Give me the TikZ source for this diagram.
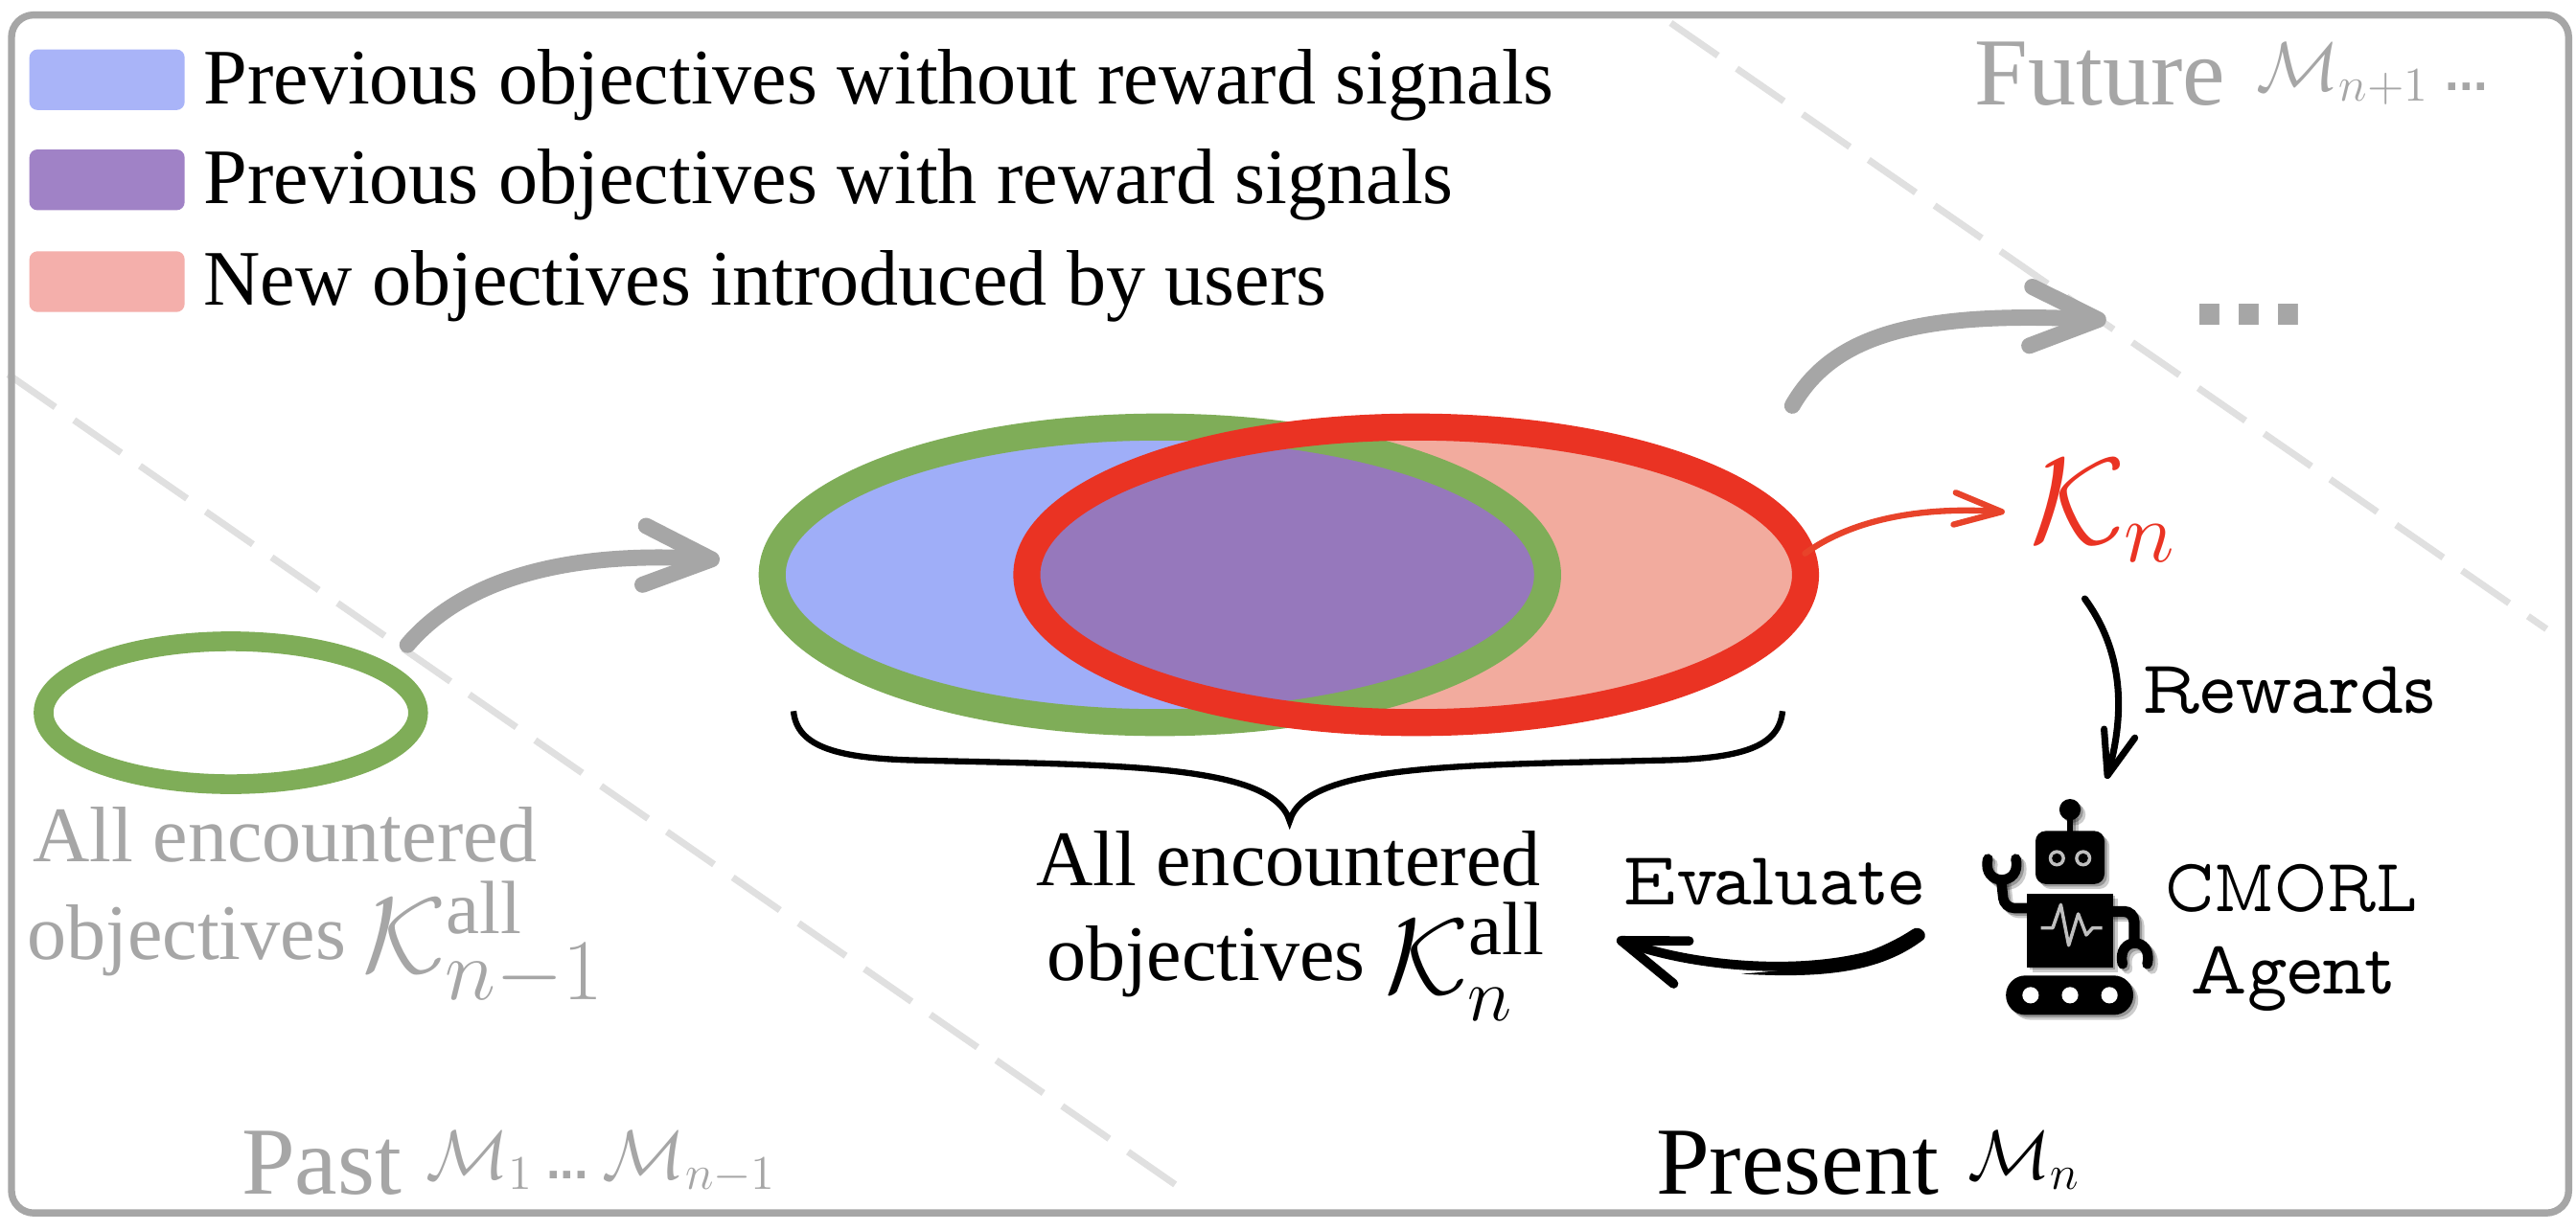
\RequirePackage{fix-cm}
\documentclass[tikz,border=0pt]{standalone}
\usepackage{fontspec}
\setmainfont{Liberation Serif}
\newfontfamily\propmono{Latin Modern Mono Prop}
\newfontfamily\dotfont{Liberation Sans}[BoldFont={Liberation Sans Bold}]
\usetikzlibrary{arrows.meta,shapes.geometric}
\definecolor{framegray}{HTML}{A6A6A6}
\definecolor{dashgray}{HTML}{E0E0E0}
\definecolor{objgreen}{HTML}{7FAD58}
\definecolor{objred}{HTML}{EA3323}
\definecolor{arrowred}{HTML}{E8432A}
\definecolor{fillblue}{HTML}{9FAEF8}
\definecolor{fillpurple}{HTML}{9678BC}
\definecolor{fillpink}{HTML}{F2AB9E}
\definecolor{swblue}{HTML}{A9B4F8}
\definecolor{swpurple}{HTML}{A082C6}
\definecolor{swpink}{HTML}{F4AFAB}
\pgfdeclarearrow{
  name=VBarb,
  defaults={length=20pt,width=18pt,line width=+0pt 1 1},
  setup code={
    \pgfarrowssettipend{0.7\pgfarrowlinewidth}
    \pgfarrowssetlineend{-0.5\pgfarrowlinewidth}
    \pgfarrowssetvisualbackend{-\pgfarrowlength}
    \pgfarrowssetbackend{-\pgfarrowlength}
    \pgfarrowssavethe\pgfarrowlength
    \pgfarrowssavethe\pgfarrowwidth
    \pgfarrowssavethe\pgfarrowlinewidth
  },
  drawing code={
    \pgfsetdash{}{+0pt}
    \pgfsetlinewidth{\pgfarrowlinewidth}
    \pgfsetroundcap
    \pgfsetroundjoin
    \pgfpathmoveto{\pgfqpoint{-\pgfarrowlength}{0.5\pgfarrowwidth}}
    \pgfpathlineto{\pgfpointorigin}
    \pgfpathlineto{\pgfqpoint{-\pgfarrowlength}{-0.5\pgfarrowwidth}}
    \pgfusepathqstroke
  },
  parameters={\the\pgfarrowlength,\the\pgfarrowwidth,\the\pgfarrowlinewidth}
}
\newcommand\sizeA{\fontsize{23.35}{28}\selectfont}
\newcommand\sizeB{\fontsize{28.5}{34}\selectfont}
\newcommand\sizeM{\fontsize{20.5}{26}\selectfont}
\newcommand\sizeK{\fontsize{32}{36}\selectfont}
\newcommand\sizeR{\fontsize{36.5}{44}\selectfont}
\newcommand\sizeT{\propmono\fontsize{22.5}{27}\selectfont}
\newcommand\smalldots{{\dotfont\bfseries\fontsize{15}{18}\selectfont ...}}
\tikzset{
  lbl/.style={anchor=base west,inner sep=0,outer sep=0},
  swatch/.style={rounded corners=2.4pt,draw=none},
  bound/.style={dashgray,line width=2pt,dash pattern=on 17pt off 6.8pt},
  grayarrow/.style={framegray,line width=4.8pt,line cap=round,-{VBarb[length=20pt,width=17.5pt]}},
  redarrow/.style={arrowred,line width=1.8pt,line cap=round,-{VBarb[length=14pt,width=9.5pt]}},
  blackarrow/.style={black,line width=2pt,line cap=round,-{VBarb[length=13pt,width=9.5pt]}},
  evalarrow/.style={black,line width=2.8pt,line cap=round,-{VBarb[length=19pt,width=13.5pt]}},
  objring/.style={ellipse,inner sep=0,outer sep=0,fill=none},
}
\newcommand\robotshape[2]{%
  \fill[#1] (1260,493) circle (6.5);
  \fill[#1] (1258,495) rectangle (1262,508);
  \fill[#1,rounded corners=3pt] (1239,506) rectangle (1281,538.3);
  \fill[#1] (1234,544) rectangle (1286,589);
  \draw[#1,line width=3pt,rounded corners=3pt] (1236,553) -- (1220,553) -- (1218,535);
  \draw[#1,line width=3pt,line cap=round] (1210,523) .. controls (1206,540) and (1231,540) .. (1227,523);
  \draw[#1,line width=3.2pt,rounded corners=3pt] (1284,555) -- (1299,555) -- (1299,574);
  \draw[#1,line width=3pt,line cap=round] (1292,587) .. controls (1288,570) and (1311,570) .. (1307,587);
  \fill[#1,rounded corners=5.8pt] (1221,594) rectangle (1298.5,618);
  \ifx#2y
    \fill[white!75!black] (1252,522.6) circle (5);
    \fill[white!75!black] (1268,522.6) circle (5);
    \fill[black] (1252,522.6) circle (3);
    \fill[black] (1268,522.6) circle (3);
    \draw[white!75!black,line width=1pt,line join=round] (1242.3,565) -- (1249.5,565) -- (1254.4,550.9) -- (1259.2,575.6) -- (1265,556.5) -- (1269.9,569.3) -- (1273.8,565) -- (1279.6,565);
    \fill[white] (1236,606) circle (5);
    \fill[white] (1260,606) circle (5);
    \fill[white] (1284,606) circle (5);
  \fi
}
\begin{document}
\begin{tikzpicture}[x=0.017143cm,y=-0.017143cm]
\useasboundingbox (0,0) rectangle (1568,749);
\fill[white] (0,0) rectangle (1568,749);
% boundaries
\draw[bound] (5,228) -- (725,728);
\draw[bound] (1017,14) -- (1550,383);
% frame
\draw[framegray,line width=2.1pt,rounded corners=6.6pt] (7,9.1) rectangle (1563.5,738.6);
% legend
\fill[swblue,swatch] (17.9,30.1) rectangle (112.4,67);
\fill[swpurple,swatch] (17.9,91) rectangle (112.4,128);
\fill[swpink,swatch] (17.9,153) rectangle (112.4,190);
\node[lbl] (leg1) at (124,63) {\sizeA Previous objectives without reward signals};
\node[lbl] (leg2) at (124,124) {\sizeA Previous objectives with reward signals};
\node[lbl] (leg3) at (124,186) {\sizeA New objectives introduced by users};
% era labels
\node[lbl,text=framegray] (future) at (1202,64) {\sizeB Future\hspace{0.32em}\sizeM\raisebox{4.4pt}{$\mathcal{M}_{n+1}$\hspace{0.23em}\smalldots}};
\node[lbl,text=framegray] (past) at (147,727) {\sizeB Past\hspace{0.25em}\sizeM\raisebox{4.4pt}{$\mathcal{M}_{1}$\hspace{0.18em}\smalldots\hspace{0.2em}$\mathcal{M}_{n-1}$}};
\node[lbl] (present) at (1008,727) {\sizeB Present\hspace{0.3em}\sizeM\raisebox{4.4pt}{$\mathcal{M}_{n}$}};
\node[lbl,text=framegray,font=\dotfont\bfseries\fontsize{42}{50}\selectfont] (more) at (1333,198) {...};
% small ellipse
\node[objring,draw=objgreen,line width=5.85pt,minimum width=228*0.017143cm,minimum height=87*0.017143cm] (prev) at (140.5,434) {};
\node[lbl,text=framegray] (prev1) at (20,524.6) {\sizeA All encountered};
\node[lbl,text=framegray] (prev2) at (16.5,584) {\sizeA objectives\hspace{0.21em}\sizeK\raisebox{-4pt}{$\mathcal{K}^{\mathrm{all}}_{\scalebox{1.15}{$\scriptstyle n-1$}}$}};
% big ellipses
\fill[fillblue] (706,350) ellipse [x radius=236,y radius=90];
\fill[fillpink] (862,350) ellipse [x radius=237,y radius=90];
\begin{scope}
\clip (706,350) ellipse [x radius=236,y radius=90];
\fill[fillpurple] (862,350) ellipse [x radius=237,y radius=90];
\end{scope}
\node[objring,draw=objgreen,line width=8pt,minimum width=472*0.017143cm,minimum height=180*0.017143cm] (old) at (706,350) {};
\node[objring,draw=objred,line width=8pt,minimum width=474*0.017143cm,minimum height=180*0.017143cm] (new) at (862,350) {};
% brace
\draw[black,line width=1.8pt] (483,433) .. controls (485,455) and (510,462) .. (560,463) .. controls (680,466) and (775,465) .. (785,500) .. controls (795,465) and (890,466) .. (1010,463) .. controls (1060,462) and (1083,455) .. (1085,433);
\node[lbl] (all1) at (630.6,539) {\sizeA All encountered};
\node[lbl] (all2) at (637,597) {\sizeA objectives\hspace{0.25em}\sizeK\raisebox{-4pt}{$\mathcal{K}^{\mathrm{all}}_{n}$}};
% K_n
\node[lbl,text=objred] (kn) at (1236,331) {\sizeR$\mathcal{K}_{n}$};
% arrows
\coordinate (g1s) at (248,392.7);
\coordinate (g1e) at (440,341);
\draw[grayarrow] (g1s) .. controls (280,355) and (340,335) .. (g1e);
\coordinate (g2s) at (1091,247);
\coordinate (g2e) at (1284,195);
\draw[grayarrow] (g2s) .. controls (1115,205) and (1165,189) .. (g2e);
\coordinate (rs) at (1098.7,337);
\coordinate (re) at (1221,311.8);
\draw[redarrow] (rs) .. controls (1125,318) and (1165,308) .. (re);
\coordinate (rws) at (1269,364.6);
\coordinate (rwe) at (1282,475);
\draw[blackarrow] (rws) .. controls (1295,400) and (1292,440) .. (rwe);
\coordinate (evs) at (1168,570);
\coordinate (eve) at (983,571.4);
\draw[evalarrow] (evs) .. controls (1125,596) and (1040,592) .. (eve);
\fill[black] (1164,566) .. controls (1168,563) and (1174,568) .. (1171,572) .. controls (1145,592) and (1110,596) .. (1060,593) .. controls (1100,590) and (1135,585) .. (1164,566) -- cycle;
\node[lbl] (rewards) at (1304,434) {\sizeT Rewards};
\node[lbl] (evaluate) at (988,551) {\sizeT Evaluate};
% robot
\begin{scope}[shift={(3,3)},opacity=0.2]
\robotshape{black}{n}
\end{scope}
\begin{scope}[shift={(1.5,1.5)},opacity=0.25]
\robotshape{black}{n}
\end{scope}
\robotshape{black}{y}
\node[lbl,xscale=0.85,transform shape] (cmorl) at (1318,555) {\sizeT CMORL};
\node[lbl] (agent) at (1333,605) {\sizeT Agent};
\end{tikzpicture}
\end{document}
